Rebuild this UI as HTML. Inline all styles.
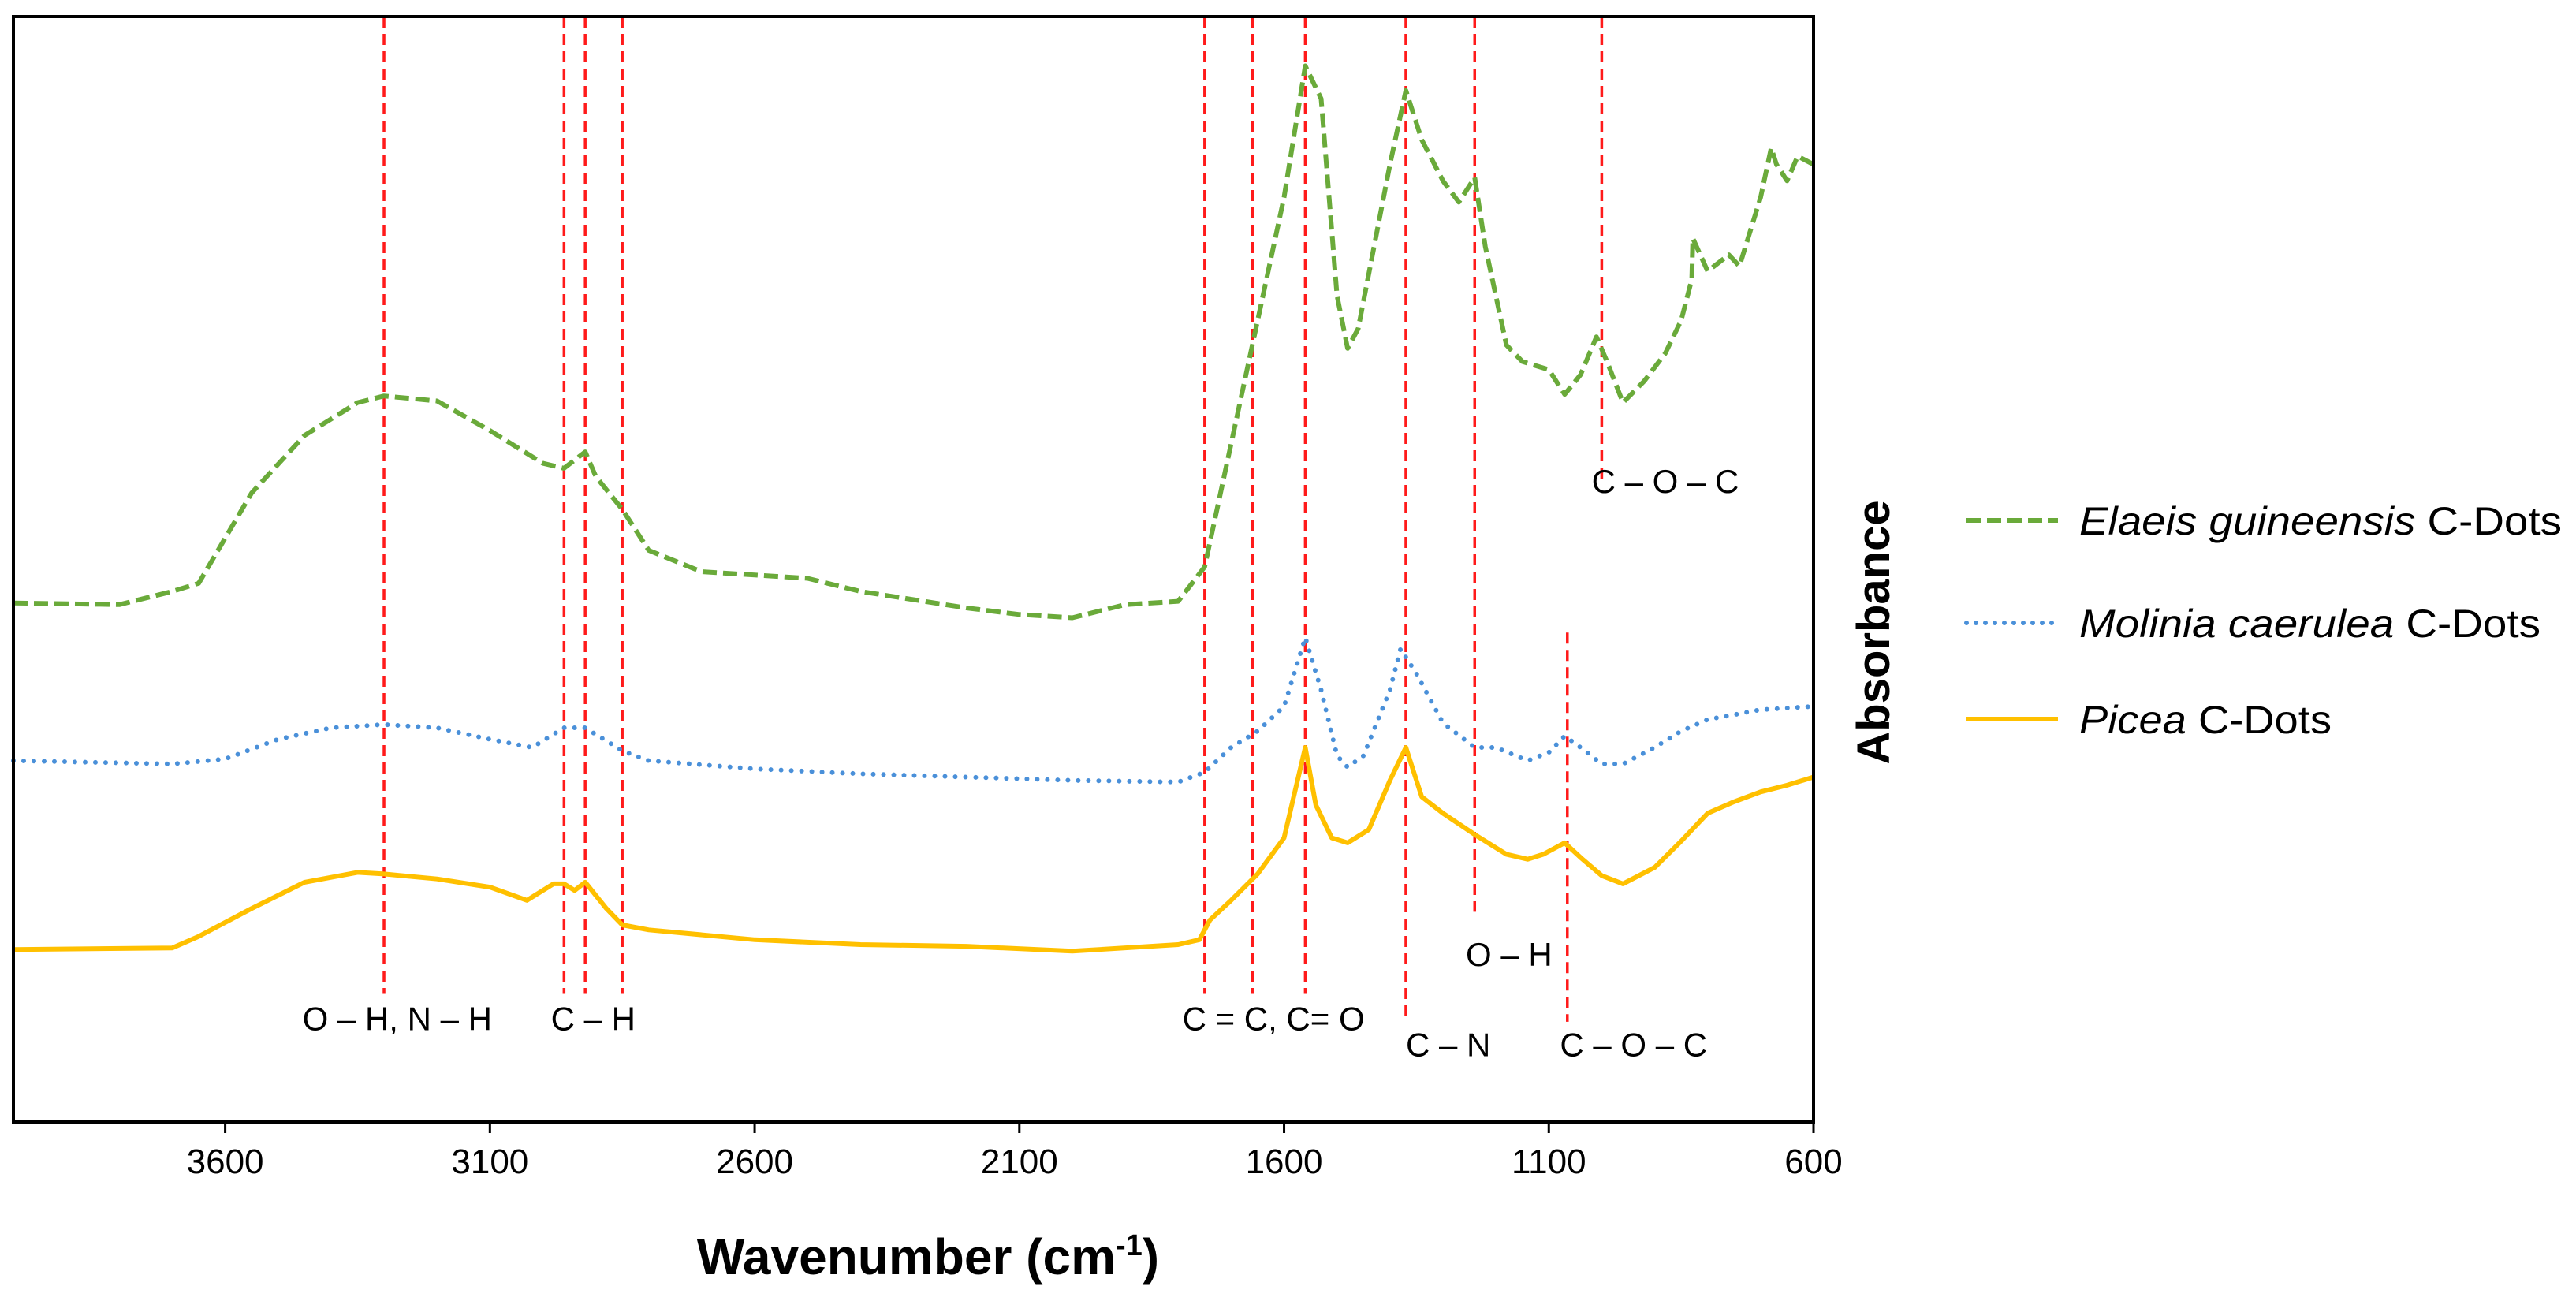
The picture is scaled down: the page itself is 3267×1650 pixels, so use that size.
<!DOCTYPE html>
<html><head><meta charset="utf-8"><style>
html,body{margin:0;padding:0;background:#fff;}
svg{display:block;font-family:"Liberation Sans",sans-serif;}
</style></head><body>
<svg id="chart" width="3267" height="1650" viewBox="0 0 3267 1650">
<rect width="3267" height="1650" fill="#fff"/>
<g id="marks"></g>
<rect x="17" y="21" width="2283" height="1402" fill="none" stroke="#000" stroke-width="4"/>
<g id="axis"></g>
<text x="1177" y="1616" font-size="64" font-weight="bold" text-anchor="middle">Wavenumber (cm<tspan font-size="38" dy="-24">-1</tspan><tspan dy="24">)</tspan></text>
<text transform="translate(2396,802) rotate(-90)" font-size="58" font-weight="bold" text-anchor="middle">Absorbance</text>
<g>
<g>
<line x1="2494" y1="660" x2="2610" y2="660" stroke="#6aaa3a" stroke-width="6" stroke-dasharray="18 8"/>
<text x="2637" y="678" font-size="50" textLength="612" lengthAdjust="spacingAndGlyphs"><tspan font-style="italic">Elaeis guineensis</tspan> C-Dots</text></g>
<g>
<line x1="2494" y1="790" x2="2610" y2="790" stroke="#4a90d9" stroke-width="6" stroke-linecap="round" stroke-dasharray="0 12"/>
<text x="2637" y="808" font-size="50" textLength="585" lengthAdjust="spacingAndGlyphs"><tspan font-style="italic">Molinia caerulea</tspan> C-Dots</text></g>
<g>
<line x1="2494" y1="912" x2="2610" y2="912" stroke="#ffc000" stroke-width="6"/>
<text x="2637" y="930" font-size="50" textLength="320" lengthAdjust="spacingAndGlyphs"><tspan font-style="italic">Picea</tspan> C-Dots</text></g>
</g>
</svg>
<script>
const xTicks = [3600, 3100, 2600, 2100, 1600, 1100, 600];
const wnElaeis = [4000,3800,3700,3650,3550,3450,3350,3300,3200,3100,3000,2960,2920,2900,2850,2800,2700,2600,2500,2400,2300,2200,2100,2000,1900,1800,1750,1700,1650,1600,1560,1530,1500,1480,1460,1400,1370,1340,1300,1270,1240,1220,1180,1150,1100,1070,1040,1010,990,960,920,880,850,830,828,800,760,740,700,680,670,650,630,600];
const absElaeis = [3.33,3.32,3.40,3.45,4.00,4.35,4.55,4.59,4.56,4.38,4.18,4.15,4.25,4.10,3.90,3.65,3.52,3.50,3.48,3.40,3.35,3.30,3.26,3.24,3.32,3.34,3.55,4.30,5.05,5.80,6.60,6.40,5.20,4.88,5.00,6.00,6.45,6.15,5.90,5.77,5.92,5.50,4.90,4.80,4.75,4.60,4.72,4.95,4.80,4.55,4.68,4.85,5.05,5.30,5.55,5.35,5.45,5.38,5.80,6.10,6.00,5.90,6.05,6.00];
const wnMolinia = [4000,3700,3600,3500,3400,3300,3200,3100,3020,2960,2920,2850,2800,2600,2400,2200,2000,1800,1750,1700,1650,1600,1560,1530,1500,1480,1450,1400,1380,1350,1300,1240,1200,1140,1100,1070,1040,1000,960,900,850,800,750,700,600];
const absMolinia = [2.37,2.35,2.38,2.50,2.57,2.59,2.57,2.50,2.45,2.57,2.57,2.43,2.37,2.32,2.29,2.27,2.25,2.24,2.30,2.45,2.55,2.70,3.12,2.80,2.40,2.33,2.40,2.80,3.05,2.90,2.60,2.45,2.45,2.37,2.42,2.52,2.45,2.35,2.35,2.45,2.55,2.62,2.65,2.68,2.70];
const wnPicea = [4000,3700,3650,3550,3450,3350,3300,3200,3100,3030,2980,2960,2940,2920,2880,2850,2800,2600,2400,2200,2000,1800,1760,1740,1700,1650,1600,1560,1540,1510,1480,1440,1400,1370,1340,1300,1240,1180,1140,1110,1070,1040,1000,960,900,850,800,750,700,650,600];
const absPicea = [1.22,1.23,1.30,1.47,1.63,1.69,1.68,1.65,1.60,1.52,1.62,1.62,1.58,1.63,1.47,1.37,1.34,1.28,1.25,1.24,1.21,1.25,1.28,1.40,1.52,1.68,1.90,2.45,2.10,1.90,1.87,1.95,2.25,2.45,2.15,2.05,1.92,1.80,1.77,1.80,1.87,1.78,1.67,1.62,1.72,1.88,2.05,2.12,2.18,2.22,2.27];
const bandWn = [3300, 2960, 2920, 2850, 1750, 1660, 1560, 1370, 1240, 1065, 1000];
const bandTop = [6.90, 6.90, 6.90, 6.90, 6.90, 6.90, 6.90, 6.90, 6.90, 3.15, 6.90];
const bandBottom = [0.95, 0.95, 0.95, 0.95, 0.95, 0.95, 0.95, 0.80, 1.45, 0.78, 4.08];
const labelText = ["O – H, N – H", "C – H", "C = C, C= O", "C – N", "O – H", "C – O – C", "C – O – C"];
const labelWn = [3275, 2905, 1620, 1290, 1175, 940, 880];
const labelAbs = [0.73, 0.73, 0.73, 0.57, 1.12, 0.57, 4.00];

const X0 = 17, X1 = 2300, Y0 = 21, Y1 = 1423;
const WN_MAX = 4000, WN_MIN = 600, A_MAX = 6.90, A_MIN = 0.17;
function xs(w){ return X0 + (WN_MAX - w) / (WN_MAX - WN_MIN) * (X1 - X0); }
function ys(a){ return Y0 + (A_MAX - a) / (A_MAX - A_MIN) * (Y1 - Y0); }
const NS = "http://www.w3.org/2000/svg";
const marks = document.getElementById('marks');
const axis = document.getElementById('axis');

for (let i = 0; i < bandWn.length; i++) {
  const l = document.createElementNS(NS, 'line');
  l.setAttribute('x1', xs(bandWn[i])); l.setAttribute('x2', xs(bandWn[i]));
  l.setAttribute('y1', ys(bandTop[i])); l.setAttribute('y2', ys(bandBottom[i]));
  l.setAttribute('stroke', '#ff1a1a'); l.setAttribute('stroke-width', '3.5');
  l.setAttribute('stroke-dasharray', '14 8');
  
  
  marks.appendChild(l);
}
function series(wn, ab, color, dash, name){
  const p = document.createElementNS(NS, 'polyline');
  p.setAttribute('points', wn.map((w, i) => xs(w).toFixed(1) + ',' + ys(ab[i]).toFixed(1)).join(' '));
  p.setAttribute('fill', 'none'); p.setAttribute('stroke', color);
  p.setAttribute('stroke-width', '6'); p.setAttribute('stroke-linejoin', 'round');
  if (dash === 'dot') { p.setAttribute('stroke-dasharray', '0 13'); p.setAttribute('stroke-linecap', 'round'); }
  else if (dash) p.setAttribute('stroke-dasharray', dash);
  
  
  marks.appendChild(p);
}
series(wnPicea, absPicea, '#ffc000', null, 'picea-series');
series(wnMolinia, absMolinia, '#4a90d9', 'dot', 'molinia-series');
series(wnElaeis, absElaeis, '#6aaa3a', '18 8', 'elaeis-series');

for (let i = 0; i < labelText.length; i++) {
  const t = document.createElementNS(NS, 'text');
  t.setAttribute('x', xs(labelWn[i])); t.setAttribute('y', ys(labelAbs[i]));
  t.setAttribute('font-size', '42'); t.setAttribute('text-anchor', 'middle');
  t.textContent = labelText[i];
  
  
  marks.appendChild(t);
}
for (const v of xTicks) {
  const tk = document.createElementNS(NS, 'line');
  tk.setAttribute('x1', xs(v)); tk.setAttribute('x2', xs(v));
  tk.setAttribute('y1', Y1); tk.setAttribute('y2', Y1 + 14);
  tk.setAttribute('stroke', '#000'); tk.setAttribute('stroke-width', '3');
  
  
  axis.appendChild(tk);
  const t = document.createElementNS(NS, 'text');
  t.setAttribute('x', xs(v)); t.setAttribute('y', 1488);
  t.setAttribute('font-size', '44'); t.setAttribute('text-anchor', 'middle');
  t.textContent = v;
  
  
  axis.appendChild(t);
}
</script>
</body></html>
